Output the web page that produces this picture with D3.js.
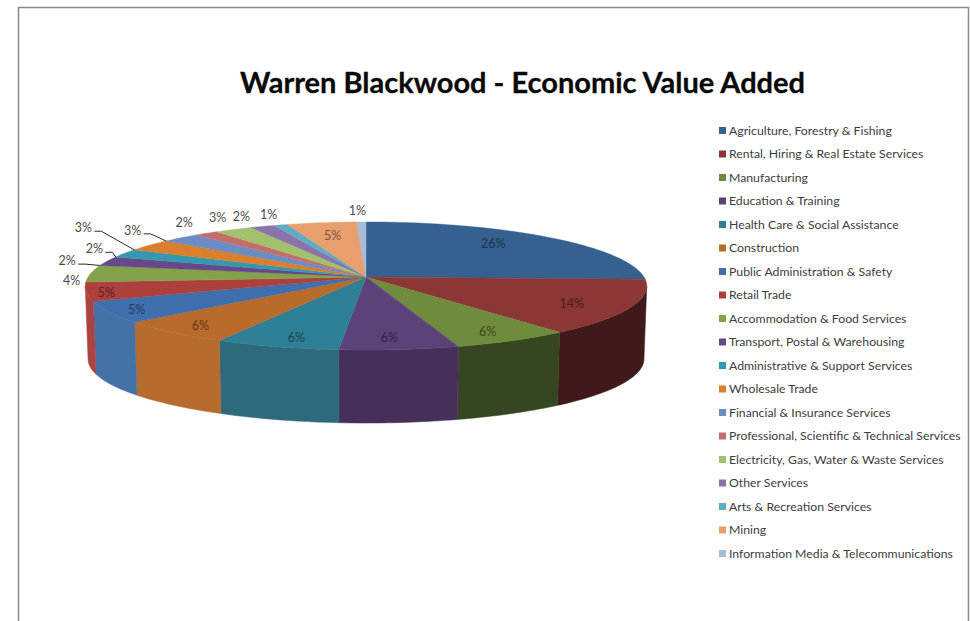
<!DOCTYPE html>
<html>
<head>
<meta charset="utf-8">
<title>Warren Blackwood - Economic Value Added</title>
<script src="https://cdn.jsdelivr.net/npm/d3@7"></script>
<style>
  html, body { margin: 0; padding: 0; background: #fff; }
  svg { display: block; }
  text { font-family: Lato, "Open Sans", sans-serif; }
</style>
</head>
<body>
<div id="chart"></div>
<script>
const chartTitle = 'Warren Blackwood - Economic Value Added';

const categories = [
  'Agriculture, Forestry & Fishing',
  'Rental, Hiring & Real Estate Services',
  'Manufacturing',
  'Education & Training',
  'Health Care & Social Assistance',
  'Construction',
  'Public Administration & Safety',
  'Retail Trade',
  'Accommodation & Food Services',
  'Transport, Postal & Warehousing',
  'Administrative & Support Services',
  'Wholesale Trade',
  'Financial & Insurance Services',
  'Professional, Scientific & Technical Services',
  'Electricity, Gas, Water & Waste Services',
  'Other Services',
  'Arts & Recreation Services',
  'Mining',
  'Information Media & Telecommunications'
];

// percent of total
const shares = [25.6, 13.8, 6, 6, 6.3, 6, 5.4, 4.7, 4.3, 2.4, 2.2, 3.1, 2.5, 1.6, 2.5, 1.6, 0.9, 4.6, 0.6];

const topColors = [
  '#36608f', '#8b3735', '#6f8b3c', '#5b4379', '#2f7f96', '#b96b2c', '#3f70ad', '#ad3f3c', '#83a24a', '#67498a',
  '#3498b0', '#d97f2e', '#6a8dc4', '#c46e6c', '#a3c06c', '#8a73a8', '#5eadc4', '#e99f6d', '#a6bbd9'
];
const sideColors = [
  '#24405f', '#40191a', '#364620', '#46305a', '#2e6a7c', '#b56c2e', '#4472a8', '#ad4340', '#83a24a', '#67498a',
  '#3498b0', '#d97f2e', '#6a8dc4', '#c46e6c', '#a3c06c', '#8a73a8', '#5eadc4', '#e99f6d', '#a6bbd9'
];

// label placement relative to the rim point at the middle of each slice
const labelOffsets = [
  [-55, 6], [-59, -4], [-25, -10], [-10, -13], [20, -10], [28, -8], [27, -3], [20, 0], [-19, 6], [-40, -1],
  [-30, -5], [-66, -18], [-48, -8], [-22, -11], [-16, -13], [-21, -11], [-12, -11], [11, 12], [-4, -12]
];
// slices whose label is tied to the rim with a leader line
const leaderSlices = ['Transport, Postal & Warehousing', 'Administrative & Support Services', 'Wholesale Trade', 'Financial & Insurance Services'];

const width = 970;
const height = 621;

const svg = d3.select('#chart').append('svg')
  .attr('width', width)
  .attr('height', height);

// frame of the pasted chart, cut off at the bottom of the picture
svg.append('path')
  .attr('d', d3.line()([[18.5, height], [18.5, 7.5], [968.5, 7.5], [968.5, height]]))
  .attr('fill', 'none')
  .attr('stroke', '#8a8a8a')
  .attr('stroke-width', 1.5);

svg.append('text')
  .attr('x', 522.5)
  .attr('y', 93)
  .attr('text-anchor', 'middle')
  .attr('font-size', 29)
  .attr('font-weight', 700)
  .attr('fill', '#0a0a0a')
  .attr('stroke', '#0a0a0a')
  .attr('stroke-width', 0.3)
  .text(chartTitle);

// perspective of the tilted disc
const centerX = 366;
const centerY = 277;
const radiusX = 278;
const radiusY = 62.8;
const persp = 0.14;
const depth = 73;
const bottomShrink = 0.99;

function project(angle, r = 1) {
  const u = r * Math.sin(angle);
  const v = -r * Math.cos(angle);
  const w = 1 - persp * v;
  return [centerX + radiusX * u / w, centerY + radiusY * v / w];
}

function projectBottom(angle) {
  const p = project(angle);
  return [centerX + (p[0] - centerX) * bottomShrink, p[1] + depth];
}

function sampleAngles(a0, a1) {
  const n = Math.max(2, Math.ceil((a1 - a0) / 0.02));
  return d3.range(n + 1).map(i => a0 + (a1 - a0) * i / n);
}

const pieData = d3.pie().sort(null).value(d => d)(shares);
const line = d3.line();

// side walls first, they run between the two widest points of the disc
const wallFrom = Math.acos(-persp);
const wallTo = Math.PI * 2 - wallFrom;

svg.append('g')
  .attr('class', 'walls')
  .selectAll('path')
  .data(pieData.filter(d => d.endAngle > wallFrom && d.startAngle < wallTo))
  .enter()
  .append('path')
  .attr('d', d => {
    const angles = sampleAngles(Math.max(d.startAngle, wallFrom), Math.min(d.endAngle, wallTo));
    return line(angles.map(a => project(a)).concat(angles.slice().reverse().map(projectBottom))) + 'Z';
  })
  .attr('fill', d => sideColors[d.index])
  .attr('stroke', d => sideColors[d.index])
  .attr('stroke-width', 0.5);

svg.append('g')
  .attr('class', 'slices')
  .selectAll('path')
  .data(pieData)
  .enter()
  .append('path')
  .attr('d', d => line([[centerX, centerY]].concat(sampleAngles(d.startAngle, d.endAngle).map(a => project(a)))) + 'Z')
  .attr('fill', d => topColors[d.index])
  .attr('stroke', d => topColors[d.index])
  .attr('stroke-width', 0.4);

function labelPos(d) {
  const p = project((d.startAngle + d.endAngle) / 2);
  return [p[0] + labelOffsets[d.index][0], p[1] + labelOffsets[d.index][1]];
}

svg.append('g')
  .attr('class', 'leaders')
  .selectAll('path')
  .data(pieData.filter(d => leaderSlices.includes(categories[d.index])))
  .enter()
  .append('path')
  .attr('d', d => {
    const p = labelPos(d);
    return line([[p[0] + 11, p[1] + 4], [p[0] + 18, p[1] + 4], project(d.startAngle)]);
  })
  .attr('fill', 'none')
  .attr('stroke', '#2a2a2a')
  .attr('stroke-width', 1);

svg.append('g')
  .attr('class', 'labels')
  .selectAll('text')
  .data(pieData)
  .enter()
  .append('text')
  .attr('x', d => labelPos(d)[0])
  .attr('y', d => labelPos(d)[1] + 2)
  .attr('text-anchor', 'middle')
  .attr('dominant-baseline', 'middle')
  .attr('font-size', 12.5)
  .attr('fill', d => {
    const inside = d.index < 8 || d.index === 17;
    return inside ? d3.color(topColors[d.index]).darker(1.8).formatHex() : '#4a4a4a';
  })
  .text(d => Math.round(d.data) + '%');

// legend
const legendY = d3.scalePoint()
  .domain(categories)
  .range([130.5, 553.5]);

let legendRows = svg.append('g')
  .attr('class', 'legend')
  .selectAll('g')
  .data(categories)
  .enter()
  .append('g')
  .attr('transform', d => `translate(719, ${legendY(d)})`);

legendRows.append('rect')
  .attr('x', 0)
  .attr('y', -3.5)
  .attr('width', 7)
  .attr('height', 7)
  .attr('fill', (d, i) => topColors[i]);

legendRows.append('text')
  .attr('x', 10)
  .attr('y', 1)
  .attr('dominant-baseline', 'middle')
  .attr('font-size', 12.25)
  .attr('fill', '#3c3c3c')
  .text(d => d);
</script>
</body>
</html>
